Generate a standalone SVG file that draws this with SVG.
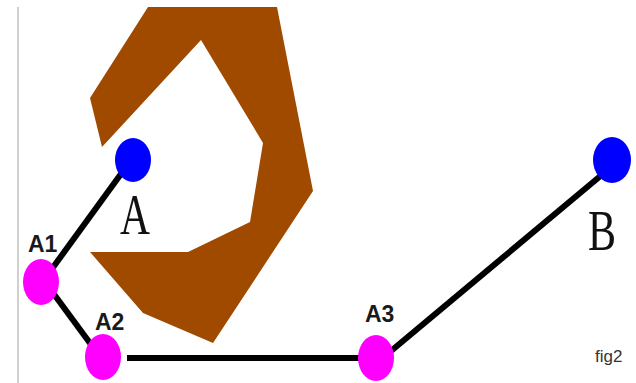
<svg xmlns="http://www.w3.org/2000/svg" width="636" height="383" viewBox="0 0 636 383">
<style>
.edge{stroke:#000;stroke-width:6;fill:none}
.pt{fill:#ff00ff}
.end{fill:#0000ff}
.lbl{font-family:"Liberation Sans",Arial,sans-serif;font-weight:bold;font-size:23px;fill:#1a1a1a}
.big{font-family:"Liberation Serif","Times New Roman",serif;font-size:56px;fill:#111}
</style>
<rect width="636" height="383" fill="#fff"/>
<line x1="18" y1="7" x2="18" y2="383" stroke="#d0d0d0" stroke-width="2"/>
<polygon id="obstacle" fill="#a04a00" points="148,7 277,7 313,191 213,343 143,313 90,252 188,252 250,222 263,143 201,40 102,147 90,98"/>
<g id="connectors">
<line class="edge" x1="126" y1="167" x2="46" y2="277"/>
<line class="edge" x1="45" y1="282" x2="98" y2="354"/>
<line class="edge" x1="127" y1="358" x2="376" y2="358"/>
<line class="edge" x1="385" y1="356" x2="610" y2="168"/>
</g>
<g id="A"><ellipse class="end" cx="133" cy="160" rx="18" ry="22"/><text class="big" x="120" y="234" textLength="30" lengthAdjust="spacingAndGlyphs">A</text></g>
<g id="B"><ellipse class="end" cx="612" cy="160" rx="19" ry="23"/><text class="big" x="588" y="250" textLength="28" lengthAdjust="spacingAndGlyphs">B</text></g>
<g id="A1"><ellipse class="pt" cx="41" cy="282" rx="18" ry="23"/><text class="lbl" x="28" y="252">A1</text></g>
<g id="A2"><ellipse class="pt" cx="103" cy="357" rx="18" ry="23"/><text class="lbl" x="95" y="330">A2</text></g>
<g id="A3"><ellipse class="pt" cx="376" cy="358" rx="18" ry="23"/><text class="lbl" x="365" y="322">A3</text></g>
<text x="595" y="362" font-family="'Liberation Sans',Arial,sans-serif" font-size="17" fill="#333">fig2</text>
</svg>
